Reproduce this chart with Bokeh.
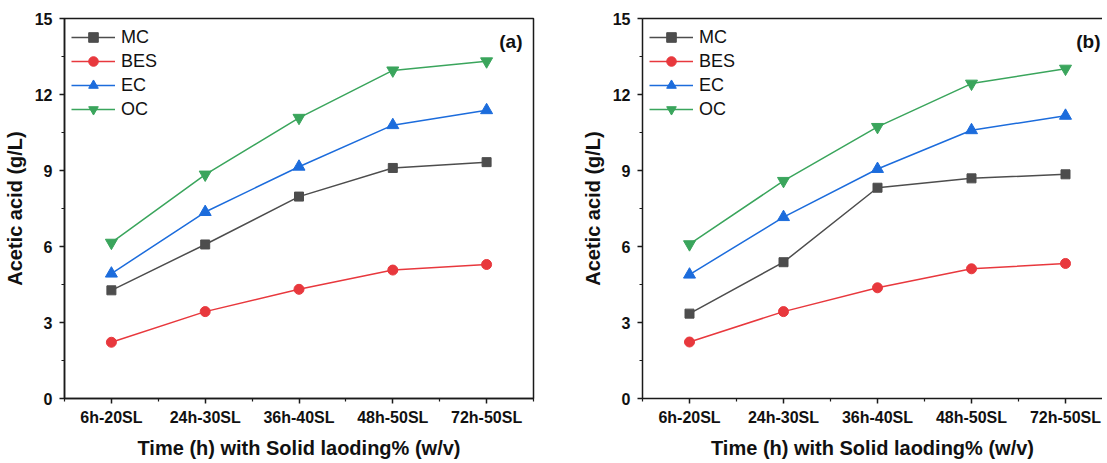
from bokeh.plotting import figure
from bokeh.models import Range1d, FixedTicker, SingleIntervalTicker, LinearAxis, Label
from bokeh.layouts import row
from bokeh.embed import file_html
from bokeh.resources import INLINE

# ---- data ----
categories = ["6h-20SL", "24h-30SL", "36h-40SL", "48h-50SL", "72h-50SL"]
series_names = ["MC", "BES", "EC", "OC"]

a_MC = [4.27, 6.08, 7.97, 9.10, 9.33]
a_BES = [2.22, 3.43, 4.31, 5.07, 5.29]
a_EC = [4.93, 7.36, 9.15, 10.79, 11.38]
a_OC = [6.15, 8.84, 11.08, 12.95, 13.31]

b_MC = [3.35, 5.38, 8.32, 8.69, 8.85]
b_BES = [2.23, 3.43, 4.37, 5.12, 5.33]
b_EC = [4.89, 7.16, 9.06, 10.59, 11.16]
b_OC = [6.09, 8.59, 10.72, 12.43, 13.02]

x_title = "Time (h) with Solid laoding% (w/v)"
y_title = "Acetic acid (g/L)"

# ---- styles ----
colors = {"MC": "#4d4d4d", "BES": "#e8383d", "EC": "#1c6cdc", "OC": "#3aa55c"}
markers = {"MC": "square", "BES": "circle", "EC": "triangle", "OC": "inverted_triangle"}
msizes = {"MC": 9, "BES": 10, "EC": 12, "OC": 12}
FONT = "Liberation Sans"
AX = "#1a1a1a"


def style_axis(ax, label_size="16px"):
    ax.axis_line_color = AX
    ax.axis_line_width = 1.5
    ax.major_tick_line_color = AX
    ax.minor_tick_line_color = AX
    ax.major_tick_line_width = 1.5
    ax.minor_tick_line_width = 1.2
    ax.major_tick_in = 0
    ax.major_tick_out = 5
    ax.minor_tick_in = 0
    ax.minor_tick_out = 3
    ax.major_label_text_font = FONT
    ax.major_label_text_font_style = "bold"
    ax.major_label_text_font_size = label_size
    ax.major_label_text_color = "#111111"
    ax.axis_label_text_font = FONT
    ax.axis_label_text_font_style = "bold"
    ax.axis_label_text_font_size = "20px"
    ax.axis_label_text_color = "#111111"


def make_panel(data, tag, fw, x_end, mbl, mbr, full_box, tag_x):
    p = figure(frame_width=fw, frame_height=380,
               x_range=Range1d(-0.5, x_end), y_range=Range1d(0, 15),
               output_backend="svg", toolbar_location=None,
               min_border_left=mbl, min_border_right=mbr,
               min_border_top=18, min_border_bottom=56,
               background_fill_color="white", border_fill_color="white")
    p.xgrid.visible = False
    p.ygrid.visible = False
    xa = p.below[0]
    ya = p.left[0]
    if full_box:
        p.outline_line_color = AX
        p.outline_line_width = 1.5
        p.outline_line_alpha = 1.0
    else:
        p.outline_line_color = None
        top = LinearAxis(ticker=FixedTicker(ticks=[]), major_label_text_font_size="0px",
                         major_tick_out=0, minor_tick_out=0, major_tick_in=0, minor_tick_in=0,
                         major_label_standoff=0, axis_line_color=AX, axis_line_width=1.5)
        p.add_layout(top, "above")

    xs = list(range(len(categories)))
    for name in series_names:
        ys = data[name]
        p.line(xs, ys, line_color=colors[name], line_width=1.5, legend_label=name)
        p.scatter(xs, ys, marker=markers[name], size=msizes[name],
                  fill_color=colors[name], line_color=colors[name], legend_label=name)

    xa.ticker = FixedTicker(ticks=xs, minor_ticks=[i - 0.5 for i in range(len(categories) + 1)])
    xa.major_label_overrides = {i: c for i, c in enumerate(categories)}
    xa.axis_label = x_title
    style_axis(xa)
    xa.major_label_standoff = 5
    xa.axis_label_standoff = 8

    ya.ticker = SingleIntervalTicker(interval=3, num_minor_ticks=2)
    ya.axis_label = y_title
    style_axis(ya)
    ya.major_label_standoff = 7
    ya.axis_label_standoff = 6

    lg = p.legend[0]
    lg.location = "top_left"
    lg.border_line_color = None
    lg.background_fill_alpha = 0
    lg.label_text_font = FONT
    lg.label_text_font_size = "18px"
    lg.label_text_color = "#111111"
    lg.glyph_width = 44
    lg.glyph_height = 24
    lg.label_height = 24
    lg.spacing = 0
    lg.padding = 0
    lg.margin = 7
    lg.label_standoff = 6

    p.add_layout(Label(x=tag_x, y=380 - 23, x_units="screen", y_units="screen",
                       text=tag, text_align="right", text_baseline="middle",
                       text_font=FONT, text_font_style="bold", text_font_size="19px",
                       text_color="#111111"))
    return p


data_a = {"MC": a_MC, "BES": a_BES, "EC": a_EC, "OC": a_OC}
data_b = {"MC": b_MC, "BES": b_BES, "EC": b_EC, "OC": b_OC}

pa = make_panel(data_a, "(a)", 469, 4.5, 57, 45, True, 469 - 11)
pb = make_panel(data_b, "(b)", 460, -0.5 + 460 / 94.0, 60, 0, False, 460 - 2)

layout = row(pa, pb)
open("out.html", "w").write(file_html(layout, INLINE))
